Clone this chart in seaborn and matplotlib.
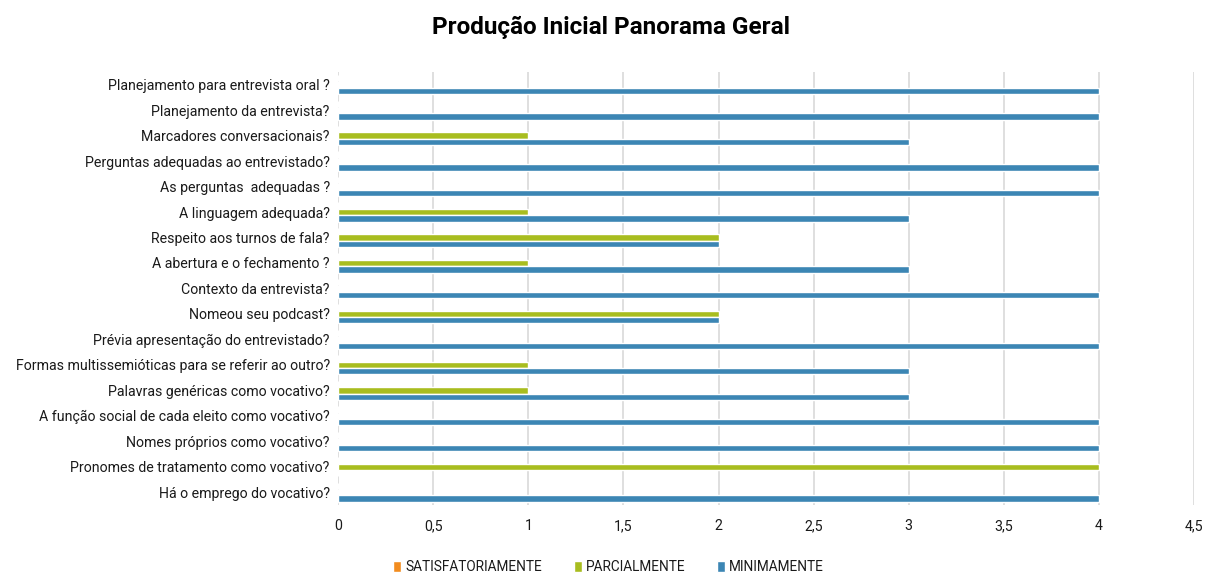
import pandas as pd
import matplotlib.pyplot as plt
import seaborn as sns

categories = [
    'Planejamento para entrevista oral ?',
    'Planejamento da entrevista?',
    'Marcadores conversacionais?',
    'Perguntas adequadas ao entrevistado?',
    'As perguntas  adequadas ?',
    'A linguagem adequada?',
    'Respeito aos turnos de fala?',
    'A abertura e o fechamento ?',
    'Contexto da entrevista?',
    'Nomeou seu podcast?',
    'Prévia apresentação do entrevistado?',
    'Formas multissemióticas para se referir ao outro?',
    'Palavras genéricas como vocativo?',
    'A função social de cada eleito como vocativo?',
    'Nomes próprios como vocativo?',
    'Pronomes de tratamento como vocativo?',
    'Há o emprego do vocativo?',
]
satisfatoriamente = [0, 0, 0, 0, 0, 0, 0, 0, 0, 0, 0, 0, 0, 0, 0, 0, 0]
parcialmente = [0, 0, 1, 0, 0, 1, 2, 1, 0, 2, 0, 1, 1, 0, 0, 4, 0]
minimamente = [4, 4, 3, 4, 4, 3, 2, 3, 4, 2, 4, 3, 3, 4, 4, 0, 4]

series = ['SATISFATORIAMENTE', 'PARCIALMENTE', 'MINIMAMENTE']
colors = ['#f28c1f', '#a8bd1f', '#3c86b4']

df = pd.DataFrame({'cat': categories,
                   series[0]: satisfatoriamente,
                   series[1]: parcialmente,
                   series[2]: minimamente})
long = df.melt(id_vars='cat', var_name='serie', value_name='valor')

sns.set_style('white')
plt.rcParams['font.family'] = ['Roboto', 'DejaVu Sans']

fig = plt.figure(figsize=(12.05, 5.75), dpi=100)
ax = fig.add_axes([0.2805, 0.1217, 0.7105, 0.7533])

sns.barplot(data=long, x='valor', y='cat', hue='serie', hue_order=series,
            order=categories, palette=colors, orient='h', width=0.75,
            saturation=1, ax=ax, legend=True)

ax.set_xlim(0, 4.5)
ax.set_xticks([0, 0.5, 1, 1.5, 2, 2.5, 3, 3.5, 4, 4.5])
ax.set_xticklabels(['0', '0,5', '1', '1,5', '2', '2,5', '3', '3,5', '4', '4,5'])
ax.xaxis.grid(True, color='#d9d9d9', linewidth=1.2)
ax.set_axisbelow(True)
for s in ax.spines.values():
    s.set_visible(False)
ax.tick_params(axis='both', length=0, labelsize=10.2, colors='#1a1a1a')
ax.tick_params(axis='x', pad=10)
ax.tick_params(axis='y', pad=6)
ax.set_xlabel('')
ax.set_ylabel('')

handles, labels = ax.get_legend_handles_labels()
ax.get_legend().remove()
fig.legend(handles, labels, loc='lower center', bbox_to_anchor=(0.505, -0.02),
           ncol=3, frameon=False, fontsize=9.8, handlelength=0.6,
           handleheight=0.9, handletextpad=0.3, columnspacing=2.3,
           labelcolor='#1a1a1a')

fig.suptitle('Produção Inicial Panorama Geral', x=0.507, y=0.972,
             fontsize=17.5, fontweight='bold', color='black')

fig.savefig('out.png', dpi=100)
